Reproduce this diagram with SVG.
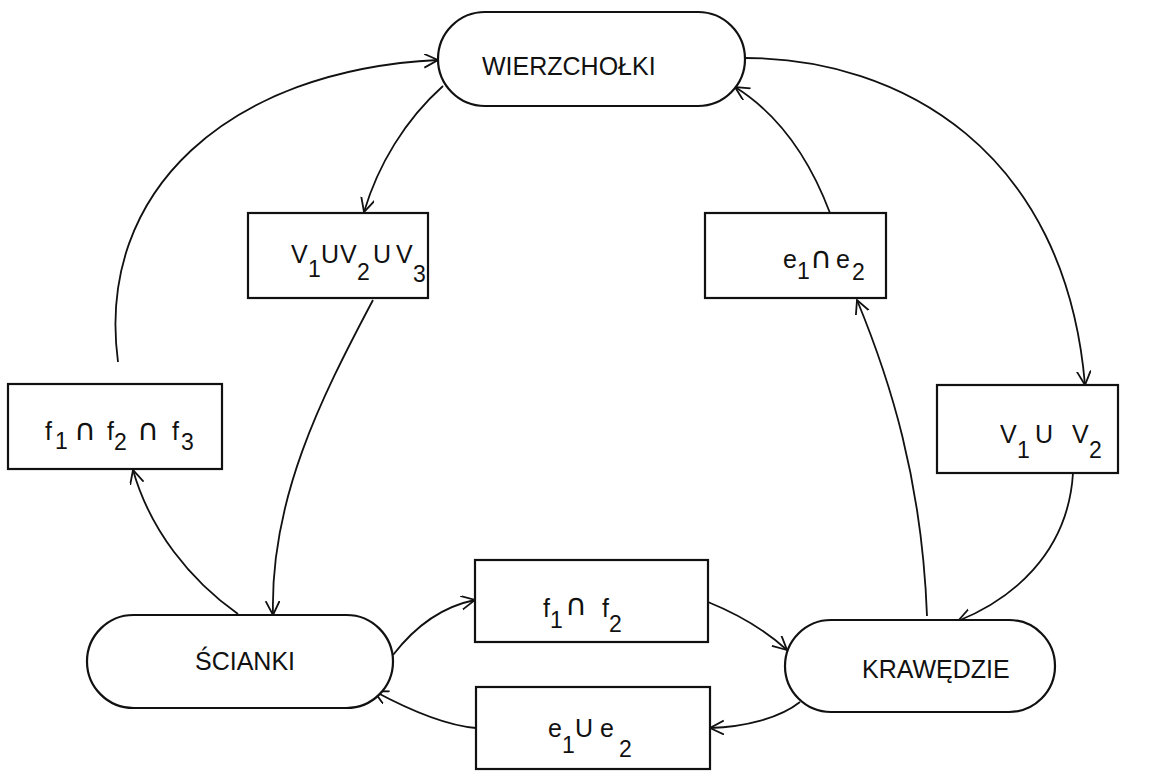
<svg xmlns="http://www.w3.org/2000/svg" width="1163" height="774" viewBox="0 0 1163 774">
  <style>
    .shape { fill: #fff; stroke: #111; stroke-width: 2.2; }
    .lbl { font-family: "Liberation Sans", Arial, sans-serif; font-size: 25px; fill: #111; }
    .sub { font-size: 23px; }
    .cap { font-family: "DejaVu Sans", "Liberation Sans", sans-serif; font-size: 30px; }
    .edge { fill: none; stroke: #111; stroke-width: 1.8; }
  </style>
  <defs>
    <marker id="arrow" markerUnits="userSpaceOnUse" markerWidth="20" markerHeight="20" refX="14" refY="7" orient="auto">
      <path d="M0,0 L14,7 L0,14" fill="none" stroke="#111" stroke-width="1.8"/>
    </marker>
  </defs>

  <rect width="1163" height="774" fill="#fff"/>

  <!-- connectors -->
  <g id="connectors">
    <path class="edge" d="M118,362 C95,190 230,70 438,60" marker-end="url(#arrow)"/>
    <path class="edge" d="M443,86 C405,120 378,165 364,212" marker-end="url(#arrow)"/>
    <path class="edge" d="M373,300 C320,400 270,500 273,615" marker-end="url(#arrow)"/>
    <path class="edge" d="M238,614 C190,580 150,530 133,470" marker-end="url(#arrow)"/>
    <path class="edge" d="M393,655 C420,620 450,605 475,600" marker-end="url(#arrow)"/>
    <path class="edge" d="M708,602 C740,615 765,630 787,650" marker-end="url(#arrow)"/>
    <path class="edge" d="M800,702 C780,718 745,727 710,728" marker-end="url(#arrow)"/>
    <path class="edge" d="M476,728 C440,725 400,705 374,691" marker-end="url(#arrow)"/>
    <path class="edge" d="M927,616 C922,480 890,380 857,300" marker-end="url(#arrow)"/>
    <path class="edge" d="M830,213 C810,160 780,115 735,87" marker-end="url(#arrow)"/>
    <path class="edge" d="M745,58 C900,58 1065,150 1085,385" marker-end="url(#arrow)"/>
    <path class="edge" d="M1073,473 C1068,555 1010,600 958,621" marker-end="url(#arrow)"/>
  </g>

  <!-- vertex set -->
  <g id="wierzcholki">
    <rect class="shape" x="438" y="12" width="307" height="94" rx="47"/>
    <text class="lbl" x="482" y="75" font-size="26">WIERZCHOŁKI</text>
  </g>

  <!-- faces -->
  <g id="scianki">
    <rect class="shape" x="87" y="615" width="306" height="93" rx="46.5"/>
    <text class="lbl" x="195" y="670" font-size="24">ŚCIANKI</text>
  </g>

  <!-- edges -->
  <g id="krawedzie">
    <rect class="shape" x="785" y="620" width="270" height="92" rx="46"/>
    <text class="lbl" x="862" y="678">KRAWĘDZIE</text>
  </g>

  <g id="box-v1v2v3">
    <rect class="shape" x="248" y="213" width="180" height="85"/>
    <text class="lbl"><tspan x="291" y="263">V</tspan><tspan class="sub" x="308" y="277">1</tspan><tspan x="321" y="263">U</tspan><tspan x="340" y="263">V</tspan><tspan class="sub" x="357" y="280">2</tspan><tspan x="373" y="263">U</tspan><tspan x="396" y="263">V</tspan><tspan class="sub" x="413" y="282">3</tspan></text>
  </g>

  <g id="box-e1ne2">
    <rect class="shape" x="705" y="213" width="181" height="85"/>
    <text class="lbl"><tspan x="783" y="268">e</tspan><tspan class="sub" x="797" y="279">1</tspan><tspan class="cap" x="810" y="268">∩</tspan><tspan x="836" y="268">e</tspan><tspan class="sub" x="852" y="280">2</tspan></text>
  </g>

  <g id="box-f1nf2nf3">
    <rect class="shape" x="8" y="384" width="214" height="85"/>
    <text class="lbl"><tspan x="45" y="440">f</tspan><tspan class="sub" x="55" y="449">1</tspan><tspan class="cap" x="74" y="440">∩</tspan><tspan x="107" y="440">f</tspan><tspan class="sub" x="114" y="450">2</tspan><tspan class="cap" x="137" y="440">∩</tspan><tspan x="172" y="440">f</tspan><tspan class="sub" x="181" y="450">3</tspan></text>
  </g>

  <g id="box-v1v2">
    <rect class="shape" x="937" y="385" width="181" height="88"/>
    <text class="lbl"><tspan x="1000" y="443">V</tspan><tspan class="sub" x="1017" y="458">1</tspan><tspan x="1035" y="443">U</tspan><tspan x="1072" y="443">V</tspan><tspan class="sub" x="1089" y="458">2</tspan></text>
  </g>

  <g id="box-f1nf2">
    <rect class="shape" x="475" y="560" width="233" height="82"/>
    <text class="lbl"><tspan x="543" y="617">f</tspan><tspan class="sub" x="550" y="628">1</tspan><tspan class="cap" x="565" y="615">∩</tspan><tspan x="602" y="617">f</tspan><tspan class="sub" x="609" y="632">2</tspan></text>
  </g>

  <g id="box-e1ue2">
    <rect class="shape" x="476" y="687" width="234" height="82"/>
    <text class="lbl"><tspan x="548" y="737">e</tspan><tspan class="sub" x="562" y="753">1</tspan><tspan x="575" y="737">U</tspan><tspan x="600" y="737">e</tspan><tspan class="sub" x="619" y="757">2</tspan></text>
  </g>
</svg>
